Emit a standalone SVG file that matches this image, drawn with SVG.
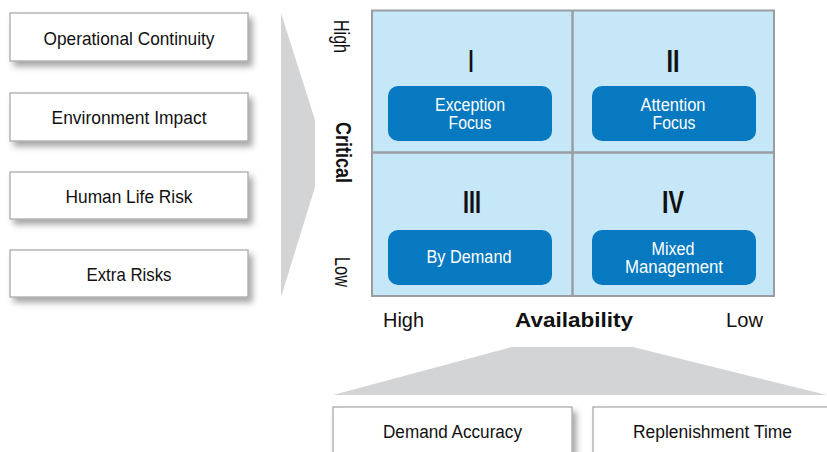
<svg xmlns="http://www.w3.org/2000/svg" width="827" height="452" viewBox="0 0 827 452">
<defs>
<filter id="sh" x="-10%" y="-30%" width="130%" height="180%">
<feDropShadow dx="4" dy="5" stdDeviation="3" flood-color="#000" flood-opacity="0.35"/>
</filter>
<style>
.box{fill:#fff;stroke:#a3a3a3;stroke-width:1.2}
.t{font-family:"Liberation Sans",Arial,sans-serif;fill:#111;text-anchor:middle}
.w{font-family:"Liberation Sans",Arial,sans-serif;fill:#fff;text-anchor:middle;font-size:17.5px}
.blue{fill:#0679c0}
.num{font-family:"Liberation Sans",Arial,sans-serif;fill:#111;text-anchor:middle;font-size:31px;font-weight:bold}
</style>
</defs>
<rect width="827" height="452" fill="#fff"/>

<!-- gray funnels -->
<polygon points="281,13 315,120 315,187 281,297" fill="#d3d4d6"/>
<polygon points="512,347 633,347 827,395 333,395" fill="#d3d4d6"/>

<!-- left factor boxes -->
<g id="n-operational">
<rect class="box" x="10" y="13" width="238" height="48" filter="url(#sh)"/>
<text class="t" x="129" y="45" font-size="19" textLength="171" lengthAdjust="spacingAndGlyphs">Operational Continuity</text>
</g>
<g id="n-environment">
<rect class="box" x="10" y="93" width="238" height="48" filter="url(#sh)"/>
<text class="t" x="129" y="124" font-size="19" textLength="155" lengthAdjust="spacingAndGlyphs">Environment Impact</text>
</g>
<g id="n-human">
<rect class="box" x="10" y="172" width="238" height="47" filter="url(#sh)"/>
<text class="t" x="129" y="203" font-size="19" textLength="127" lengthAdjust="spacingAndGlyphs">Human Life Risk</text>
</g>
<g id="n-extra">
<rect class="box" x="10" y="250" width="238" height="47" filter="url(#sh)"/>
<text class="t" x="129" y="281" font-size="19" textLength="85" lengthAdjust="spacingAndGlyphs">Extra Risks</text>
</g>

<!-- axis labels -->
<g id="axis-critical">
<text class="t" transform="translate(334,36.5) rotate(90)" font-size="22" textLength="33" lengthAdjust="spacingAndGlyphs">High</text>
<text class="t" transform="translate(336,152.5) rotate(90)" font-size="22" font-weight="bold" textLength="61" lengthAdjust="spacingAndGlyphs">Critical</text>
<text class="t" transform="translate(335,272) rotate(90)" font-size="22" textLength="30" lengthAdjust="spacingAndGlyphs">Low</text>
</g>
<g id="axis-availability">
<text class="t" x="403.5" y="327" font-size="21" textLength="41" lengthAdjust="spacingAndGlyphs">High</text>
<text class="t" x="574" y="327" font-size="21" font-weight="bold" textLength="118" lengthAdjust="spacingAndGlyphs">Availability</text>
<text class="t" x="744.5" y="327" font-size="21" textLength="37" lengthAdjust="spacingAndGlyphs">Low</text>
</g>

<!-- matrix -->
<g id="matrix">
<rect x="372" y="10.5" width="402" height="285.5" fill="#c5e7f8" stroke="#9a9ea3" stroke-width="2"/>
<line x1="572.5" y1="10.5" x2="572.5" y2="296" stroke="#9a9ea3" stroke-width="2.5"/>
<line x1="372" y1="152.5" x2="774" y2="152.5" stroke="#9a9ea3" stroke-width="2.5"/>
</g>

<g id="q1">
<text class="num" x="471" y="72" textLength="5" lengthAdjust="spacingAndGlyphs">I</text>
<rect class="blue" x="388" y="86" width="164" height="55" rx="10"/>
<text class="w" x="470" y="110.5" textLength="70" lengthAdjust="spacingAndGlyphs">Exception</text>
<text class="w" x="470" y="129" textLength="43" lengthAdjust="spacingAndGlyphs">Focus</text>
</g>
<g id="q2">
<text class="num" x="673" y="72" textLength="13" lengthAdjust="spacingAndGlyphs">II</text>
<rect class="blue" x="592" y="86" width="164" height="55" rx="10"/>
<text class="w" x="673" y="110.5" textLength="65" lengthAdjust="spacingAndGlyphs">Attention</text>
<text class="w" x="674" y="129" textLength="43" lengthAdjust="spacingAndGlyphs">Focus</text>
</g>
<g id="q3">
<text class="num" x="472" y="213" textLength="18" lengthAdjust="spacingAndGlyphs">III</text>
<rect class="blue" x="388" y="230" width="164" height="55" rx="10"/>
<text class="w" x="469" y="263" textLength="85" lengthAdjust="spacingAndGlyphs">By Demand</text>
</g>
<g id="q4">
<text class="num" x="673" y="213" textLength="22" lengthAdjust="spacingAndGlyphs">IV</text>
<rect class="blue" x="592" y="230" width="164" height="55" rx="10"/>
<text class="w" x="673" y="254.5" textLength="43" lengthAdjust="spacingAndGlyphs">Mixed</text>
<text class="w" x="674" y="273" textLength="98" lengthAdjust="spacingAndGlyphs">Management</text>
</g>

<!-- bottom factor boxes -->
<g id="n-demand">
<rect class="box" x="333" y="407" width="239" height="60" filter="url(#sh)"/>
<text class="t" x="452.5" y="438" font-size="18" textLength="139" lengthAdjust="spacingAndGlyphs">Demand Accuracy</text>
</g>
<g id="n-replenishment">
<rect class="box" x="593" y="407" width="240" height="60" filter="url(#sh)"/>
<text class="t" x="712.5" y="438" font-size="18" textLength="159" lengthAdjust="spacingAndGlyphs">Replenishment Time</text>
</g>
<g id="connectors"/>
</svg>
